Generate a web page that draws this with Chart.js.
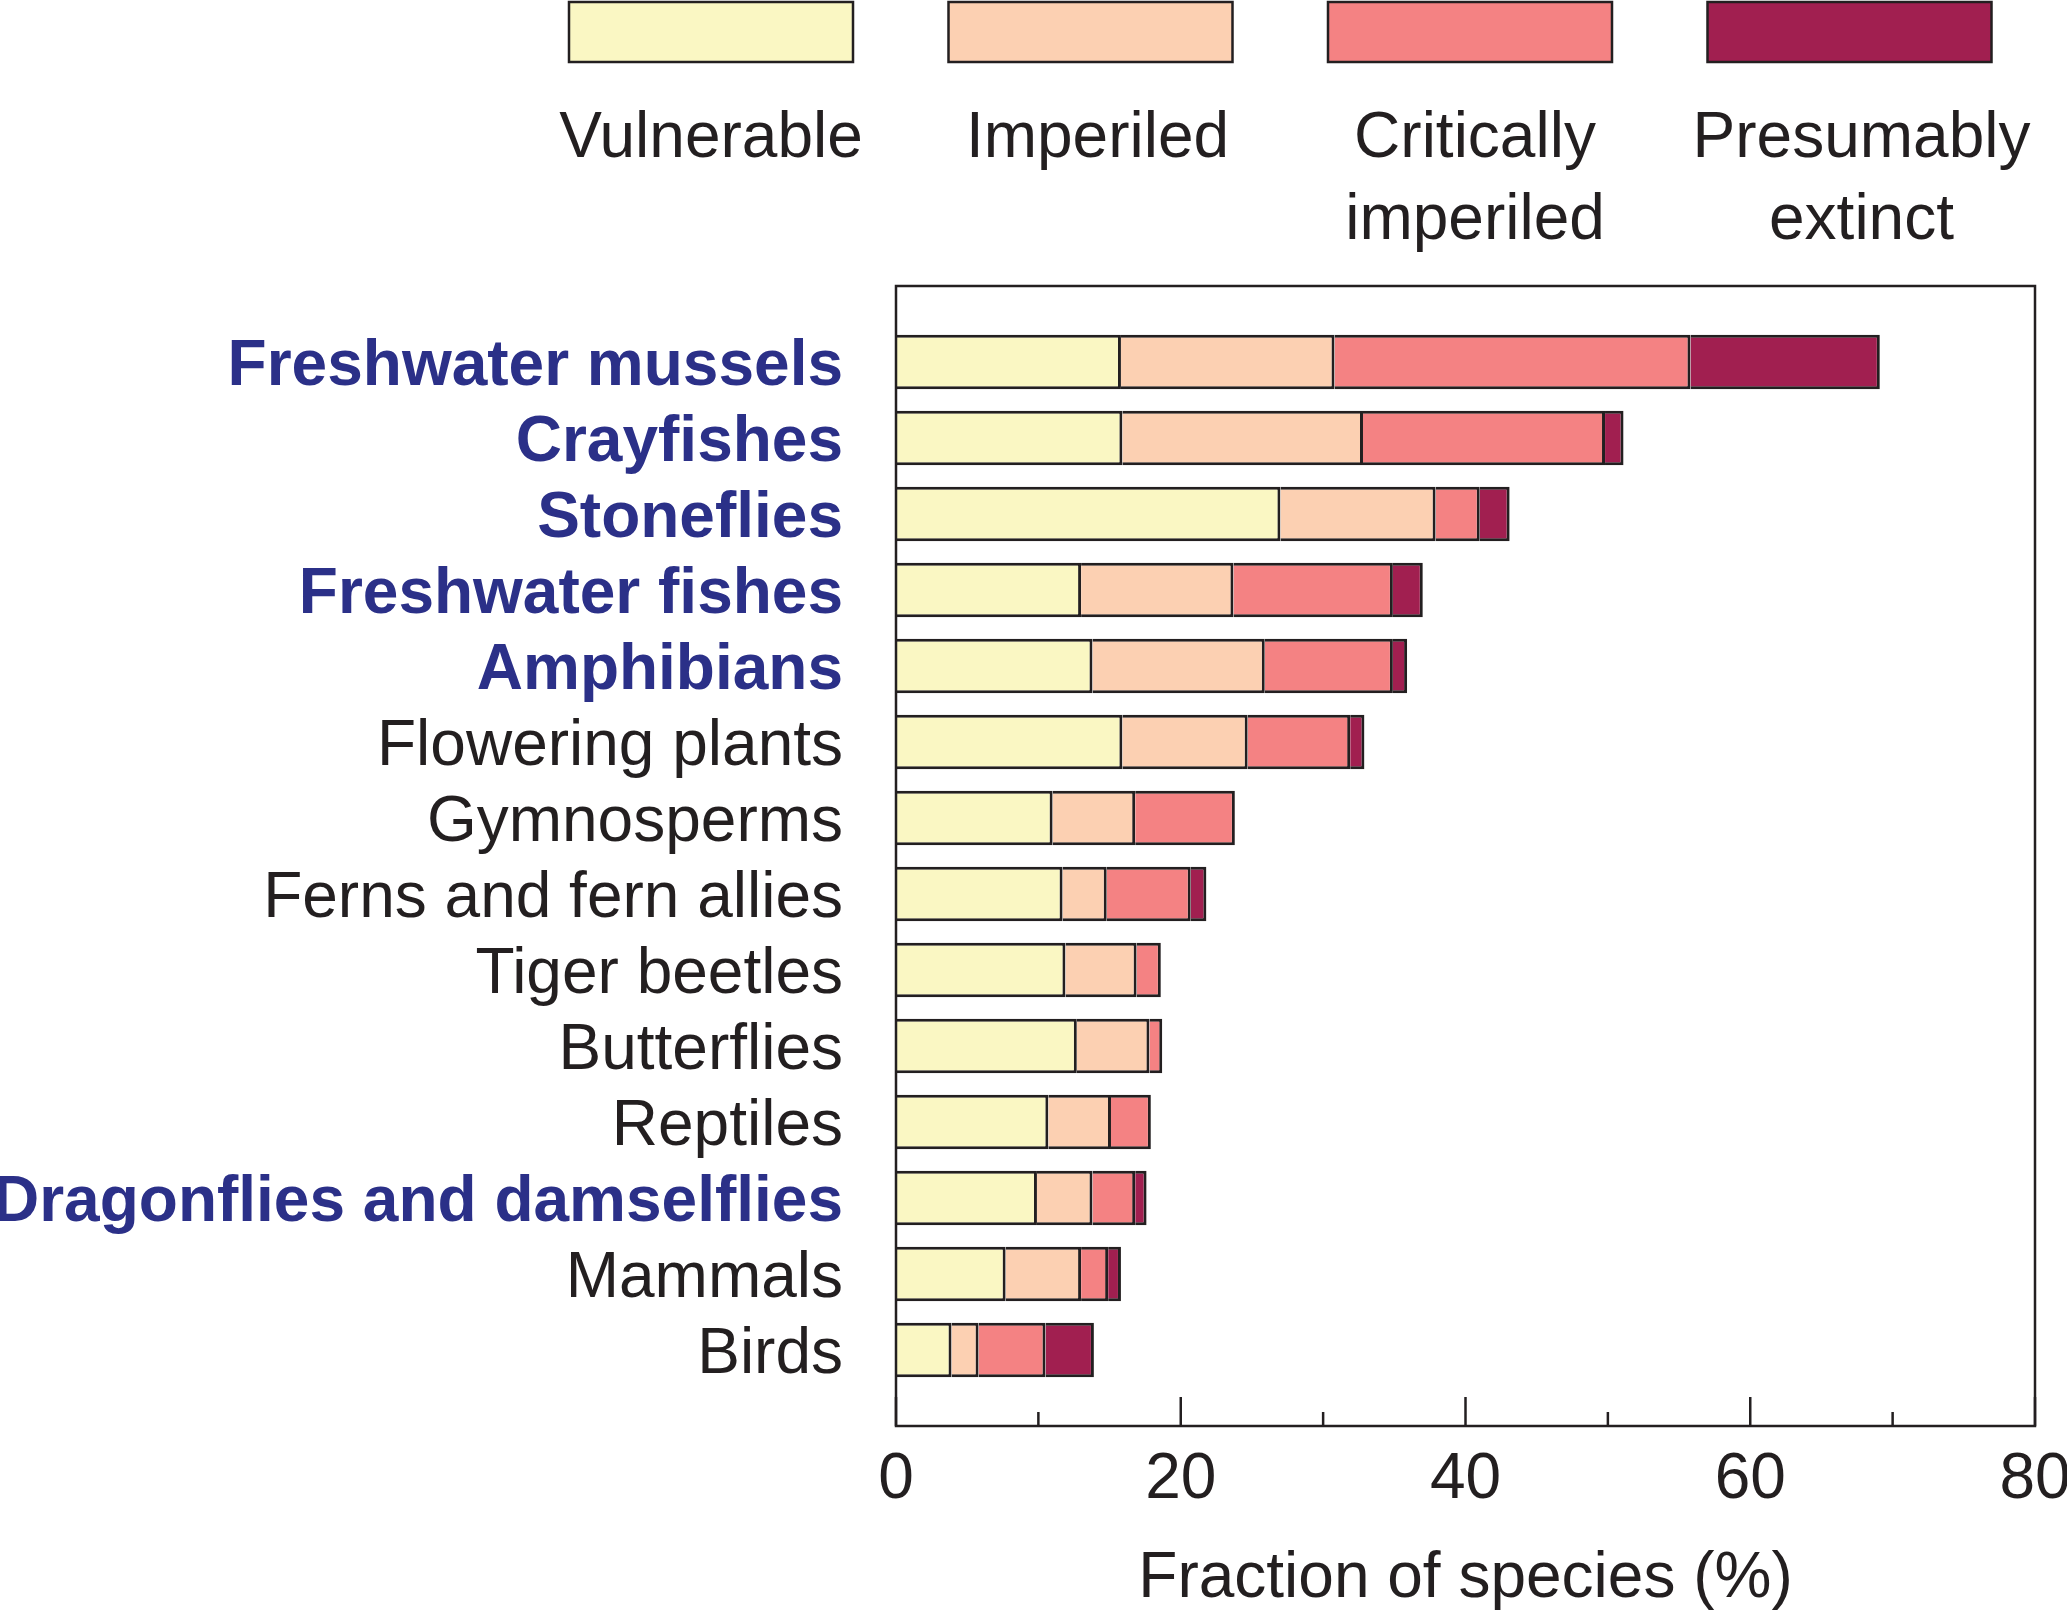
<!DOCTYPE html>
<html>
<head>
<meta charset="utf-8">
<script src="https://cdn.jsdelivr.net/npm/chart.js@4"></script>
<style>
html,body{margin:0;padding:0;background:#fff;}
#wrap{position:relative;width:2067px;height:1612px;}
</style>
</head>
<body>
<div id="wrap"><canvas id="c"></canvas></div>
<script>
const categories = ["Freshwater mussels","Crayfishes","Stoneflies","Freshwater fishes","Amphibians","Flowering plants","Gymnosperms","Ferns and fern allies","Tiger beetles","Butterflies","Reptiles","Dragonflies and damselflies","Mammals","Birds"];
const freshwaterGroups = ["Freshwater mussels","Crayfishes","Stoneflies","Freshwater fishes","Amphibians","Dragonflies and damselflies"];
const vulnerable = [15.8, 15.9, 27.0, 13.0, 13.8, 15.9, 11.0, 11.7, 11.9, 12.7, 10.7, 9.9, 7.7, 3.9];
const imperiled  = [15.0, 16.9, 10.9, 10.7, 12.1, 8.8, 5.8, 3.1, 5.0, 5.1, 4.4, 3.9, 5.3, 1.9];
const critically = [25.0, 17.0, 3.1, 11.2, 9.0, 7.2, 7.0, 5.9, 1.7, 0.9, 2.8, 3.0, 1.9, 4.7];
const extinct    = [13.3, 1.3, 2.1, 2.1, 1.0, 1.0, 0, 1.1, 0, 0, 0, 0.8, 0.9, 3.4];
const seriesLabels = [["Vulnerable"],["Imperiled"],["Critically","imperiled"],["Presumably","extinct"]];
const seriesColors = ["#faf7c3","#fcd0b2","#f48283","#a11f50"];
const xTicks = [0, 20, 40, 60, 80];

const INK = "#231f20";
const BLUE = "#2b3088";
const FONT = "'Liberation Sans', Arial, Helvetica, sans-serif";

// pad the category axis with an empty slot at each end
const labels = [""].concat(categories, [""]);
const pad = arr => [null].concat(arr, [null]);
const seriesData = [vulnerable, imperiled, critically, extinct];

const datasets = seriesData.map((d, i) => ({
  label: seriesLabels[i].join(" "),
  data: pad(d),
  backgroundColor: seriesColors[i],
  borderColor: INK,
  borderWidth: 3,
  borderSkipped: "start",
  categoryPercentage: 0.72,
  barPercentage: 1.0
}));

const framePlugin = {
  id: "frame",
  afterDatasetsDraw(chart) {
    const {ctx, chartArea: a, scales: {x}} = chart;
    ctx.save();
    ctx.strokeStyle = INK;
    ctx.lineWidth = 2.5;
    ctx.strokeRect(a.left, a.top, a.right - a.left, a.bottom - a.top);
    // inward tick marks
    x.ticks.forEach(t => {
      const px = x.getPixelForValue(t.value);
      const major = xTicks.includes(t.value);
      const len = major ? 29 : 14;
      ctx.beginPath();
      ctx.moveTo(px, a.bottom);
      ctx.lineTo(px, a.bottom - len);
      ctx.stroke();
    });
    ctx.restore();
  }
};

const legendPlugin = {
  id: "customLegend",
  afterDraw(chart) {
    const {ctx} = chart;
    const boxLeft = 569, boxSpacing = 379.5, boxW = 284, boxTop = 2, boxH = 60;
    const textShift = [0, 7, 5, 12];
    ctx.save();
    chart.data.datasets.forEach((ds, i) => {
      const bx = boxLeft + i * boxSpacing;
      ctx.fillStyle = ds.backgroundColor;
      ctx.fillRect(bx, boxTop, boxW, boxH);
      ctx.strokeStyle = INK;
      ctx.lineWidth = 2.5;
      ctx.strokeRect(bx, boxTop, boxW, boxH);
      ctx.fillStyle = INK;
      ctx.font = "64px " + FONT;
      ctx.textAlign = "center";
      ctx.textBaseline = "alphabetic";
      seriesLabels[i].forEach((line, j) => {
        ctx.fillText(line, bx + boxW / 2 + textShift[i], 157 + j * 82);
      });
    });
    ctx.restore();
  }
};

new Chart(document.getElementById("c"), {
  type: "bar",
  data: { labels, datasets },
  options: {
    indexAxis: "y",
    responsive: true,
    maintainAspectRatio: false,
    animation: false,
    layout: { padding: { left: 0, top: 286, right: 32, bottom: 0 } },
    plugins: { legend: { display: false }, tooltip: { enabled: false } },
    scales: {
      x: {
        stacked: true,
        min: 0, max: 80,
        grid: { display: false, drawTicks: false },
        border: { display: false },
        ticks: {
          stepSize: 10,
          autoSkip: false,
          maxRotation: 0,
          padding: 22,
          color: INK,
          font: { family: FONT, size: 64, lineHeight: 1 },
          callback: v => xTicks.includes(v) ? String(v) : ""
        },
        title: {
          display: true,
          text: "Fraction of species (%)",
          color: INK,
          font: { family: FONT, size: 64, lineHeight: 1 },
          padding: { top: 0, bottom: 1 }
        },
        afterFit: s => { s.height = 186; s.paddingLeft = 0; s.paddingRight = 0; }
      },
      y: {
        stacked: true,
        offset: false,
        grid: { display: false, drawTicks: false },
        border: { display: false },
        ticks: {
          autoSkip: false,
          padding: 53,
          labelOffset: 5,
          color: c => freshwaterGroups.includes(labels[c.index]) ? BLUE : INK,
          font: c => ({ family: FONT, size: 64, lineHeight: 1, weight: freshwaterGroups.includes(labels[c.index]) ? "bold" : "normal" })
        },
        afterFit: s => { s.width = 896; s.paddingTop = 0; s.paddingBottom = 0; }
      }
    }
  },
  plugins: [framePlugin, legendPlugin]
});
</script>
</body>
</html>
